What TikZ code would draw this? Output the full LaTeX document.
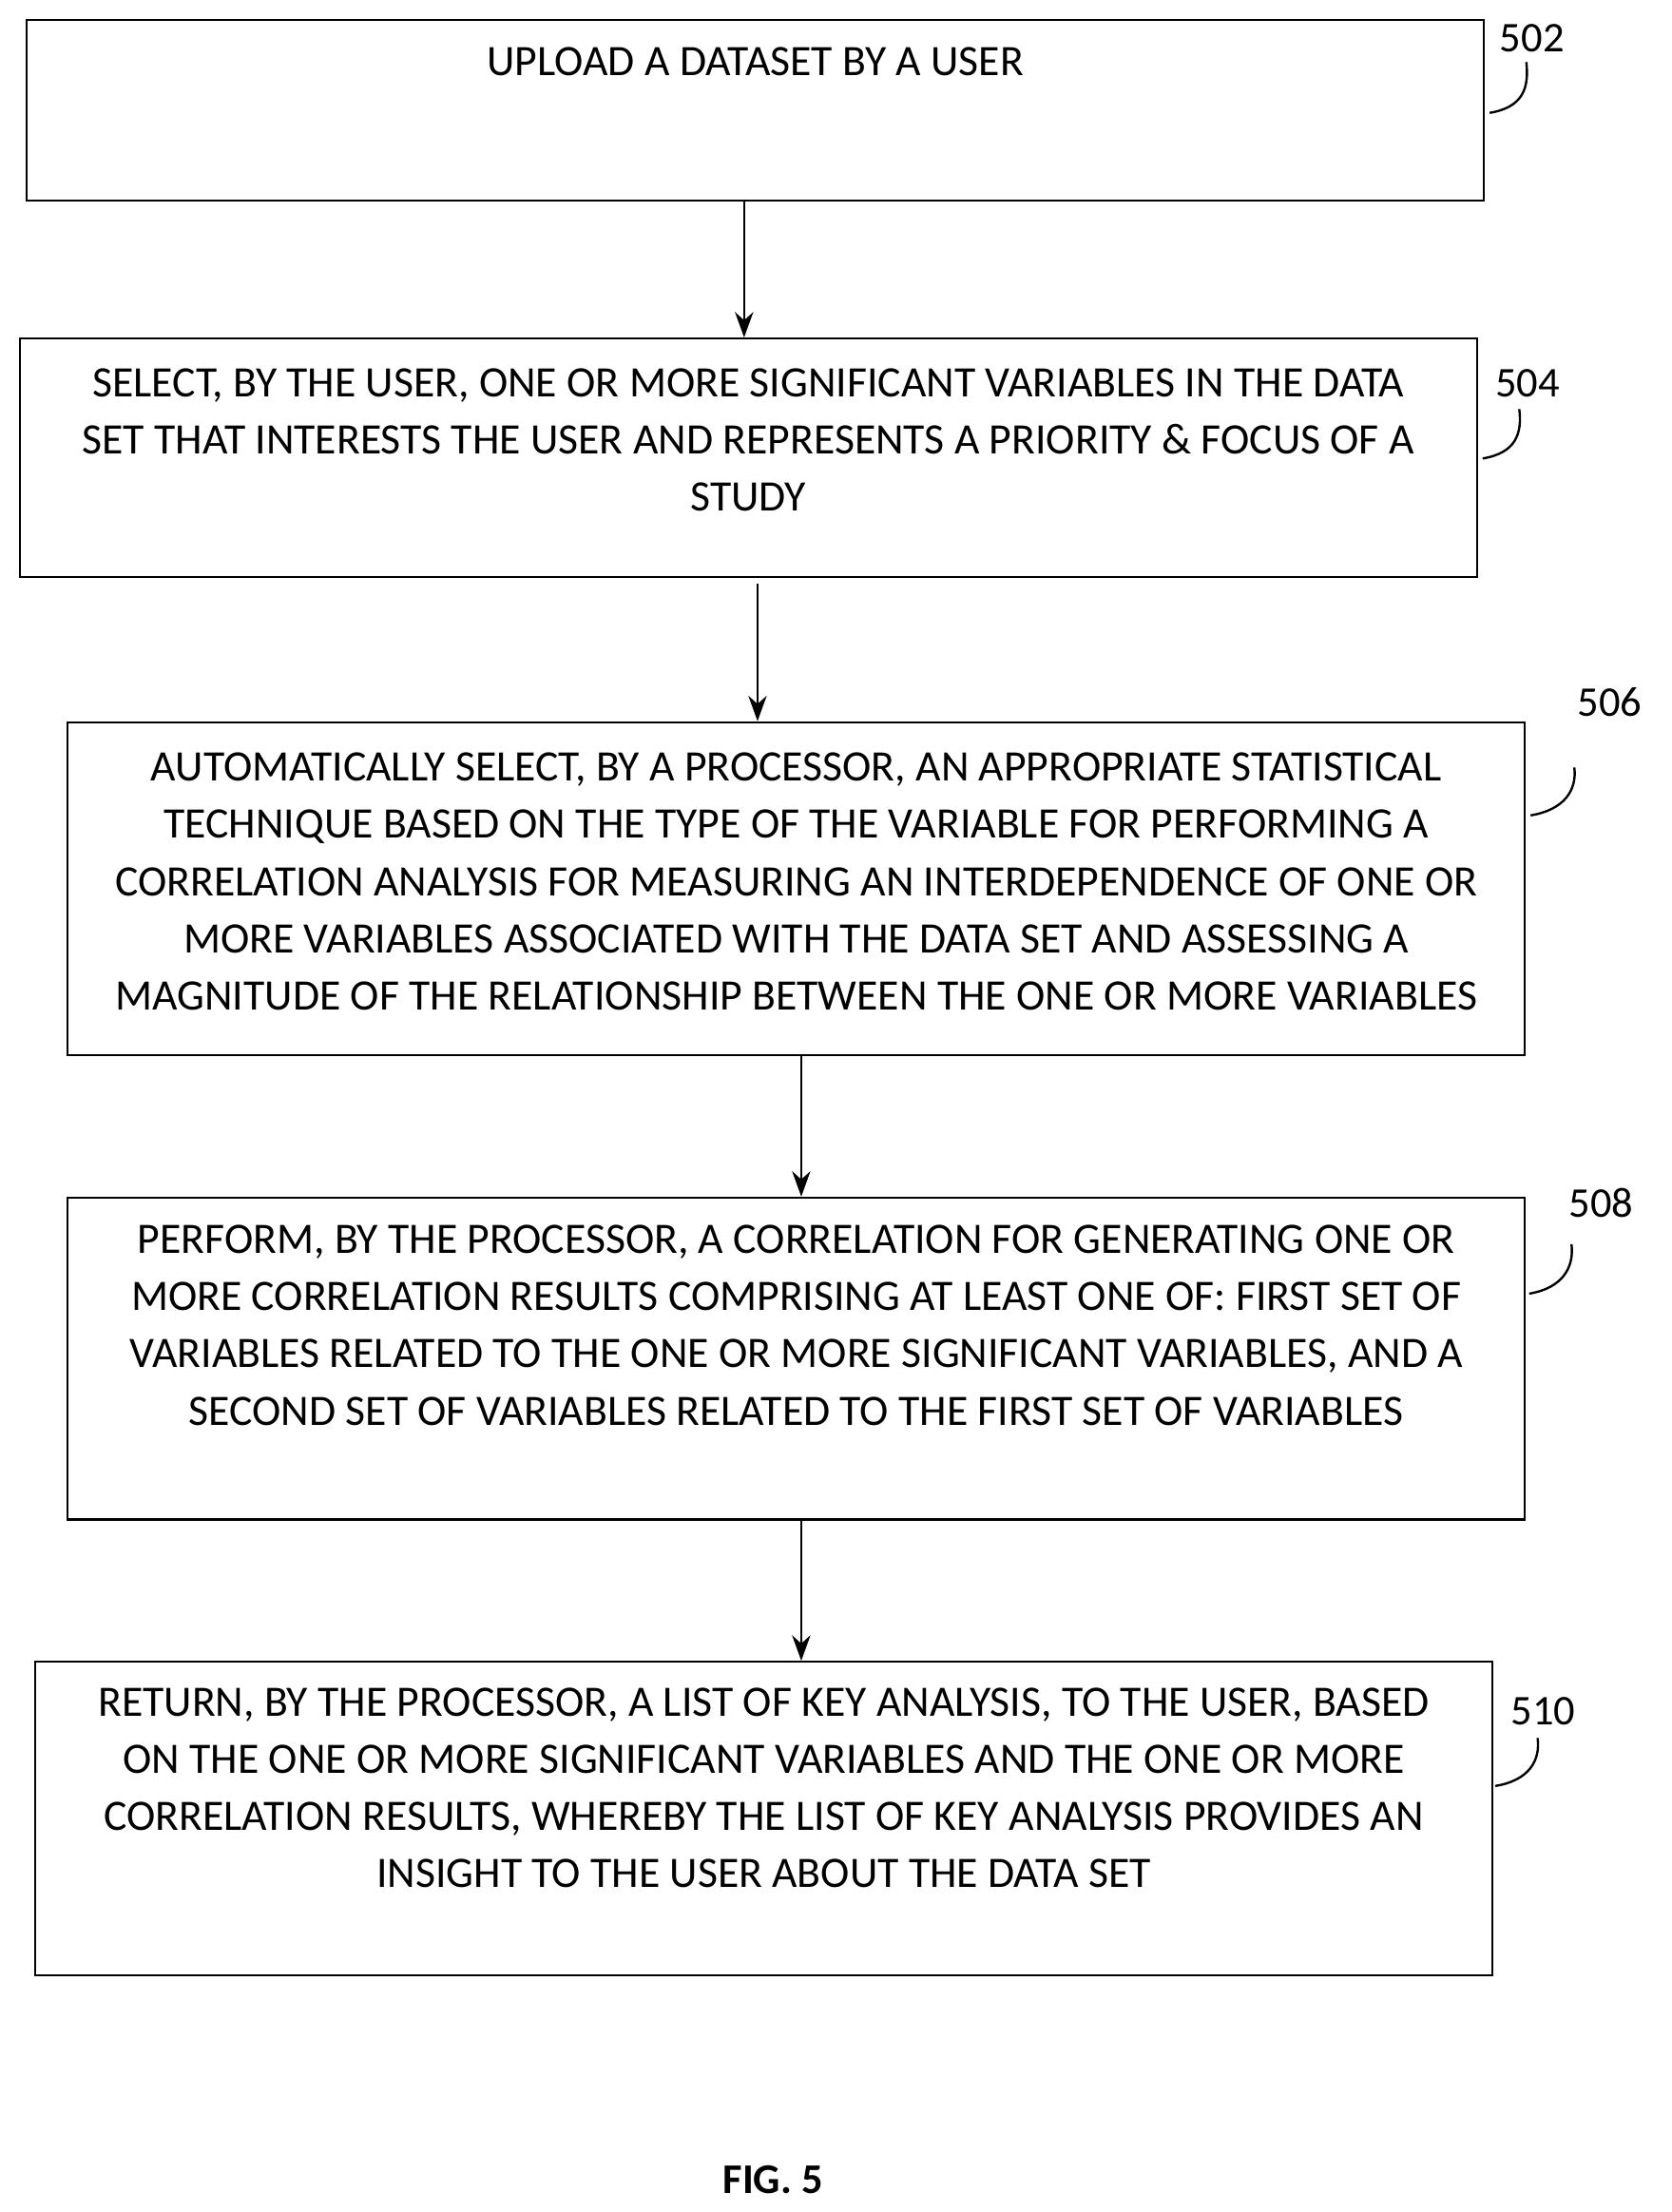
\documentclass[tikz,border=0pt]{standalone}
\usepackage{fontspec}
\setmainfont{Carlito}
\usetikzlibrary{arrows.meta}
\begin{document}
\begin{tikzpicture}[x=0.5pt,y=-0.5pt]
\tikzset{
	stage/.style={draw, thick, inner sep=0pt},
	txt/.style={align=center, font=\fontsize{15.4}{20.3}\selectfont, inner sep=0pt},
	tag/.style={font=\fontsize{15}{16}\selectfont, inner sep=0pt},
	flow/.style={-{Stealth[length=9pt,width=6.5pt]}, thick}
}
\useasboundingbox (0,0) rectangle (1185,1568);

% boxes
\node[stage, minimum width=516.5pt, minimum height=64pt] (b502) at (535.5,78) {};
\node[stage, minimum width=516.5pt, minimum height=84.5pt] (b504) at (530.5,324.5) {};
\node[stage, minimum width=516.5pt, minimum height=118pt] (b506) at (564.5,630) {};
\node[stage, minimum width=516.5pt, minimum height=114pt] (b508) at (564.5,963) {};
\node[stage, minimum width=516.5pt, minimum height=111pt] (b510) at (541.5,1289) {};

% texts
\node[txt, anchor=north] (t502) at (535.5,33) {UPLOAD A DATASET BY A USER};
\node[txt] (t504) at (530.5,312) {SELECT, BY THE USER, ONE OR MORE SIGNIFICANT VARIABLES IN THE DATA\\SET THAT INTERESTS THE USER AND REPRESENTS A PRIORITY \& FOCUS OF A\\STUDY};
\node[txt] (t506) at (564.5,625) {AUTOMATICALLY SELECT, BY A PROCESSOR, AN APPROPRIATE STATISTICAL\\TECHNIQUE BASED ON THE TYPE OF THE VARIABLE FOR PERFORMING A\\CORRELATION ANALYSIS FOR MEASURING AN INTERDEPENDENCE OF ONE OR\\MORE VARIABLES ASSOCIATED WITH THE DATA SET AND ASSESSING A\\MAGNITUDE OF THE RELATIONSHIP BETWEEN THE ONE OR MORE VARIABLES};
\node[txt, anchor=north] (t508) at (564.5,868) {PERFORM, BY THE PROCESSOR, A CORRELATION FOR GENERATING ONE OR\\MORE CORRELATION RESULTS COMPRISING AT LEAST ONE OF: FIRST SET OF\\VARIABLES RELATED TO THE ONE OR MORE SIGNIFICANT VARIABLES, AND A\\SECOND SET OF VARIABLES RELATED TO THE FIRST SET OF VARIABLES};
\node[txt, anchor=north] (t510) at (541.5,1196) {RETURN, BY THE PROCESSOR, A LIST OF KEY ANALYSIS, TO THE USER, BASED\\ON THE ONE OR MORE SIGNIFICANT VARIABLES AND THE ONE OR MORE\\CORRELATION RESULTS, WHEREBY THE LIST OF KEY ANALYSIS PROVIDES AN\\INSIGHT TO THE USER ABOUT THE DATA SET};

% arrows
\draw[flow] ([xshift=-4pt]b502.south) -- ([xshift=-4pt]b502.south |- b504.north);
\draw[flow] ([xshift=3.25pt,yshift=-2pt]b504.south) -- ([xshift=3.25pt]b504.south |- b506.north);
\draw[flow] ([xshift=1.75pt]b506.south) -- ([xshift=1.75pt]b506.south |- b508.north);
\draw[flow] ([xshift=1.75pt]b508.south) -- ([xshift=1.75pt]b508.south |- b510.north);

% reference labels
\node[tag] (n502) at (1086,27) {502};
\node[tag] (n504) at (1083,272) {504};
\node[tag] (n506) at (1141,498) {506};
\node[tag] (n508) at (1135,853) {508};
\node[tag] (n510) at (1094,1213) {510};
\draw[thick] (1056,80) .. controls (1080,76) and (1084,62) .. (1082,44);
\draw[thick] (1051,325) .. controls (1075,321) and (1079,307) .. (1077,290);
\draw[thick] (1085,578) .. controls (1109,574) and (1118,560) .. (1116,544);
\draw[thick] (1084,917) .. controls (1108,913) and (1116,898) .. (1114,882);
\draw[thick] (1060,1266) .. controls (1084,1262) and (1092,1248) .. (1090,1232);

\node[font=\fontsize{15}{16}\selectfont\bfseries] (fig) at (548,1545) {FIG. 5};
\end{tikzpicture}
\end{document}
